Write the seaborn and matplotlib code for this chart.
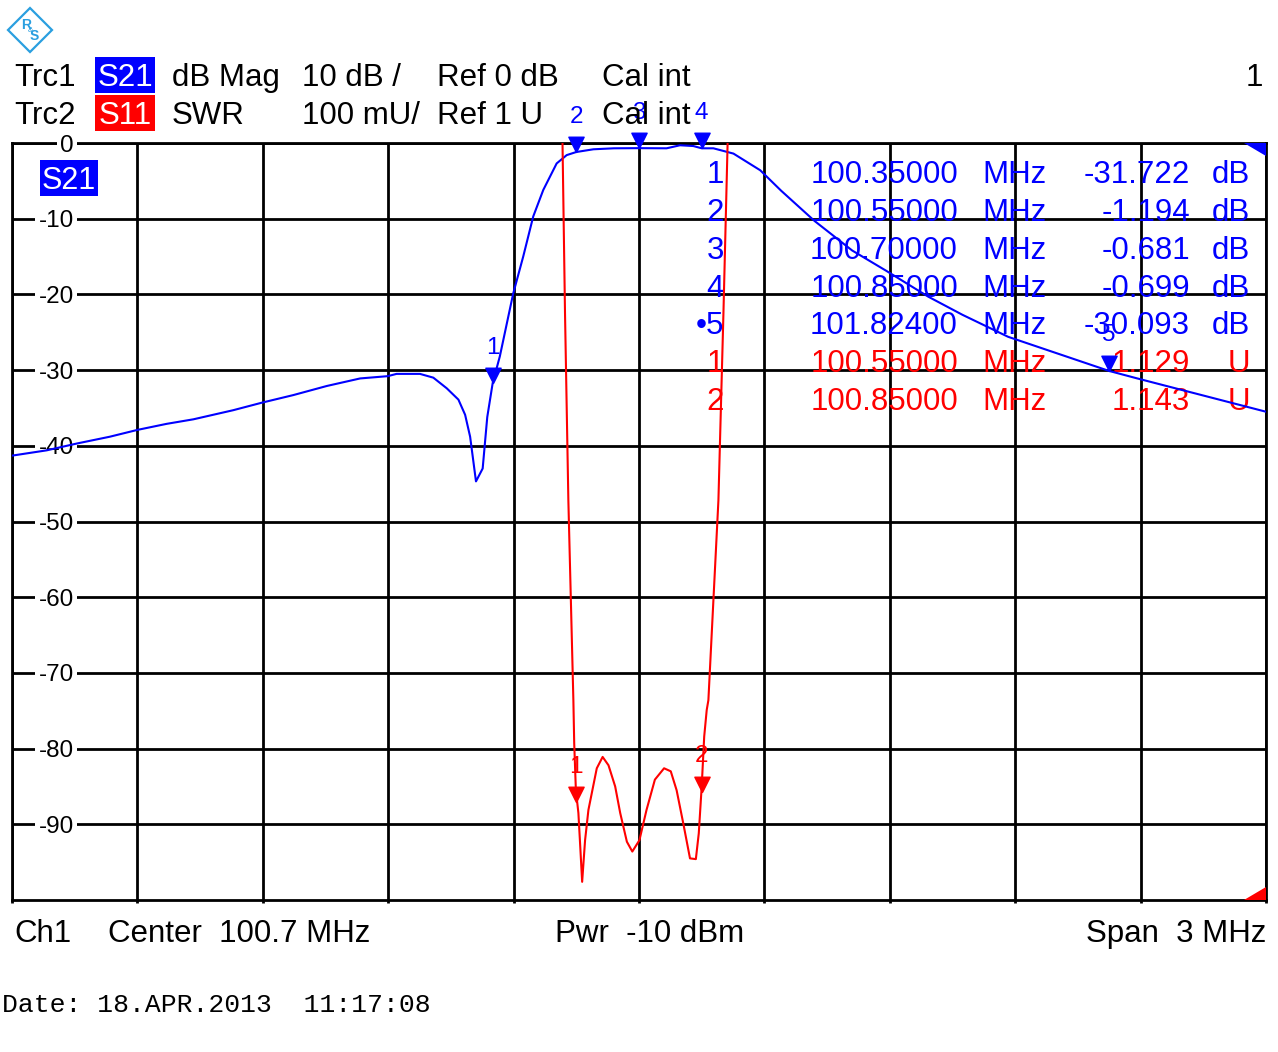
import numpy as np
import pandas as pd
import matplotlib
matplotlib.use("Agg")
import matplotlib.pyplot as plt
import matplotlib.transforms as mtransforms
from matplotlib.patches import Rectangle, Polygon
from matplotlib.path import Path
import seaborn as sns

# ---------------- data ----------------
s21_freq = [99.200, 99.283, 99.355, 99.434, 99.500, 99.570, 99.634, 99.729, 99.798,
            99.873, 99.953, 100.033, 100.099, 100.120, 100.176, 100.208, 100.240,
            100.268, 100.284, 100.296, 100.310, 100.326, 100.337, 100.350, 100.367,
            100.399, 100.423, 100.447, 100.471, 100.503, 100.527, 100.550, 100.591,
            100.640, 100.702, 100.766, 100.798, 100.830, 100.850, 100.878, 100.926,
            100.990, 101.040, 101.120, 101.210, 101.292, 101.392, 101.474, 101.583,
            101.674, 101.824, 101.892, 101.983, 102.074, 102.200]
s21_db = [-41.3, -40.6, -39.7, -38.8, -37.9, -37.1, -36.5, -35.3, -34.3,
          -33.3, -32.1, -31.1, -30.8, -30.5, -30.5, -31.0, -32.4,
          -33.9, -35.9, -38.8, -44.7, -43.0, -36.2, -31.7, -28.2,
          -19.9, -15.0, -9.7, -6.2, -2.7, -1.6, -1.19, -0.83,
          -0.70, -0.68, -0.70, -0.30, -0.40, -0.70, -0.70, -1.4,
          -3.6, -6.3, -10.3, -14.2, -16.9, -20.3, -22.7, -25.6,
          -27.3, -30.1, -31.1, -32.4, -33.7, -35.5]

s11_freq = [100.510, 100.517, 100.523, 100.531, 100.543, 100.545, 100.549, 100.555,
            100.559, 100.564, 100.571, 100.579, 100.599, 100.613, 100.627, 100.643,
            100.655, 100.671, 100.684, 100.701, 100.718, 100.738, 100.760, 100.776,
            100.790, 100.806, 100.822, 100.836, 100.843, 100.850, 100.856, 100.862,
            100.866, 100.890, 100.902, 100.912, 100.918]
s11_swr = [2.15, 2.00, 1.775, 1.528, 1.264, 1.207, 1.145, 1.115,
           1.075, 1.024, 1.079, 1.119, 1.174, 1.189, 1.178, 1.150,
           1.115, 1.077, 1.064, 1.079, 1.119, 1.159, 1.174, 1.170,
           1.145, 1.101, 1.055, 1.054, 1.088, 1.150, 1.216, 1.251,
           1.264, 1.528, 1.775, 2.00, 2.12]

mk_ids = ["1", "2", "3", "4", "5", "1", "2"]
mk_freq = [100.35, 100.55, 100.70, 100.85, 101.824, 100.55, 100.85]
mk_val = [-31.722, -1.194, -0.681, -0.699, -30.093, 1.129, 1.143]
mk_unit = ["dB", "dB", "dB", "dB", "dB", "U", "U"]
mk_trace = ["S21", "S21", "S21", "S21", "S21", "S11", "S11"]
mk_active = 4

center_mhz = 100.7
span_mhz = 3.0
db_ref, db_per_div = 0, 10
swr_ref, swr_per_div = 1.0, 0.1
n_div = 10
db_tick_labels = ["0", "-10", "-20", "-30", "-40", "-50", "-60", "-70", "-80", "-90"]

hdr_row1 = ["Trc1", "S21", "dB Mag", "10 dB /", "Ref 0 dB", "Cal int"]
hdr_row2 = ["Trc2", "S11", "SWR", "100 mU/", "Ref 1 U", "Cal int"]
footer = ["Ch1", "Center  100.7 MHz", "Pwr  -10 dBm", "Span  3 MHz"]
date_text = "Date: 18.APR.2013  11:17:08"

BLUE = "#0000ff"
RED = "#ff0000"

# ---------------- style ----------------
sns.set_style("white")
plt.rcParams["font.family"] = ["Liberation Sans", "DejaVu Sans"]
plt.rcParams["text.color"] = "black"
plt.rcParams["xtick.color"] = "black"
plt.rcParams["ytick.color"] = "black"
plt.rcParams["axes.labelcolor"] = "black"

W, H = 1278, 1052
fig = plt.figure(figsize=(W / 100, H / 100), dpi=100)
fig.patch.set_facecolor("white")
PX = mtransforms.Affine2D().scale(1 / W, -1 / H).translate(0, 1) + fig.transFigure

L, R, T, B = 12, 1266, 143, 900
ax = fig.add_axes([L / W, 1 - B / H, (R - L) / W, (B - T) / H])

df21 = pd.DataFrame({"freq": s21_freq, "db": s21_db})
df11 = pd.DataFrame({"freq": s11_freq, "swr": s11_swr})

f0 = center_mhz - span_mhz / 2
f1 = center_mhz + span_mhz / 2
ax.set_xlim(f0, f1)
ax.set_ylim(db_ref - n_div * db_per_div, db_ref)
ax.set_xticks(np.linspace(f0, f1, n_div + 1))
ax.set_yticks([db_ref - i * db_per_div for i in range(n_div)])
ax.set_yticklabels(db_tick_labels)
ax.set_axisbelow(True)
ax.grid(True, color="black", linewidth=2.0)
for s in ax.spines.values():
    s.set_color("black")
    s.set_linewidth(2.0)
    s.set_zorder(0.4)
ax.tick_params(axis="x", direction="out", length=2.5, width=2.0, color="black",
               labelbottom=False, bottom=True)
ax.tick_params(axis="y", length=0, pad=-44.6, labelsize=17.5, labelcolor="black")
for lab in ax.get_yticklabels():
    lab.set_horizontalalignment("right")
    lab.set_bbox(dict(facecolor="white", edgecolor="none", pad=2.5))

sns.lineplot(data=df21, x="freq", y="db", ax=ax, color=BLUE, linewidth=1.5,
             estimator=None, sort=False, zorder=2)
ax.set_xlabel("")
ax.set_ylabel("")

ax2 = ax.twinx()
ax2.set_ylim(swr_ref, swr_ref + n_div * swr_per_div)
ax2.set_yticks([])
for s in ax2.spines.values():
    s.set_visible(False)
sns.lineplot(data=df11, x="freq", y="swr", ax=ax2, color=RED, linewidth=1.5,
             estimator=None, sort=False, zorder=2)
ax2.set_xlabel("")
ax2.set_ylabel("")
ax2.set_xlim(f0, f1)

# marker triangles (tip at point)
tri = Path([(-0.5, 1.0), (0.5, 1.0), (0.0, 0.0), (-0.5, 1.0)],
           [Path.MOVETO, Path.LINETO, Path.LINETO, Path.CLOSEPOLY])
for i, (mid, f, v, tr) in enumerate(zip(mk_ids, mk_freq, mk_val, mk_trace)):
    a = ax if tr == "S21" else ax2
    c = BLUE if tr == "S21" else RED
    a.plot([f], [v], marker=tri, markersize=22, color=c, linestyle="none",
           zorder=4, clip_on=False)
    a.annotate(mid, (f, v), xytext=(0, 25.5), textcoords="offset points",
               ha="center", va="center", fontsize=17.5, color=c, zorder=4,
               annotation_clip=False)

# marker table
row_y = [175, 213, 251, 289, 326, 364, 402]
for i, (mid, f, v, u, tr) in enumerate(zip(mk_ids, mk_freq, mk_val, mk_unit, mk_trace)):
    c = BLUE if tr == "S21" else RED
    y = row_y[i]
    idt = ("\u2022" + mid) if i == mk_active else mid
    kw = dict(transform=PX, va="center", fontsize=22.5, color=c, zorder=1.5)
    ax.text(724, y, idt, ha="right", **kw)
    ax.text(958, y, f"{f:.5f}", ha="right", **kw)
    ax.text(982, y, "MHz", ha="left", **kw)
    ax.text(1190, y, f"{v:.3f}", ha="right", **kw)
    ax.text(1250, y, u, ha="right", **kw)

# S21 badge inside diagram
ax.add_patch(Rectangle((40, 160), 58, 36, transform=PX, facecolor=BLUE,
                       edgecolor="none", clip_on=False, zorder=3))
ax.text(69, 181, "S21", transform=PX, ha="center", va="center", fontsize=22,
        color="white", zorder=3.5)

# limit indicator triangles
ax.add_patch(Polygon([(1244, 143), (1266, 143), (1266, 156)], closed=True,
                     transform=PX, facecolor=BLUE, edgecolor="none", clip_on=False, zorder=3))
ax.add_patch(Polygon([(1244, 900), (1266, 900), (1266, 887)], closed=True,
                     transform=PX, facecolor=RED, edgecolor="none", clip_on=False, zorder=3))

# header
hx = [14, 125, 172, 302, 437, 602]
for row, y, bc in ((hdr_row1, 75, BLUE), (hdr_row2, 113, RED)):
    for j, (x, s) in enumerate(zip(hx, row)):
        if j == 1:
            fig.patches.append(Rectangle((95, y - 18), 60, 36, transform=PX,
                                         facecolor=bc, edgecolor="none"))
            fig.text(x, y + 3, s, transform=PX, ha="center", va="center",
                     fontsize=22.5, color="white")
        else:
            fig.text(x, y + 3, s, transform=PX, ha="left", va="center",
                     fontsize=22.5, color="black")
fig.text(1263, 78, "1", transform=PX, ha="right", va="center", fontsize=22.5, color="black")

# footer
fy = 934
fig.text(14, fy, footer[0], transform=PX, ha="left", va="center", fontsize=22.5)
fig.text(108, fy, footer[1], transform=PX, ha="left", va="center", fontsize=22.5)
fig.text(555, fy, footer[2], transform=PX, ha="left", va="center", fontsize=22.5)
fig.text(1266, fy, footer[3], transform=PX, ha="right", va="center", fontsize=22.5)
fig.text(2, 1005, date_text, transform=PX, ha="left", va="center", fontsize=19,
         family=["Liberation Mono", "DejaVu Sans Mono"], color="black")

# logo
LOGO = "#2a9fe0"
fig.patches.append(Polygon([(30, 8), (52, 30), (30, 52), (8, 30)], closed=True,
                           transform=PX, facecolor="none", edgecolor=LOGO, linewidth=1.6))
fig.text(26, 25, "R", transform=PX, ha="center", va="center", fontsize=10,
         color=LOGO, fontweight="bold")
fig.text(31, 30, "&", transform=PX, ha="center", va="center", fontsize=6, color=LOGO)
fig.text(34, 36, "S", transform=PX, ha="center", va="center", fontsize=10,
         color=LOGO, fontweight="bold")

fig.savefig("out.png", dpi=100, facecolor="white")
